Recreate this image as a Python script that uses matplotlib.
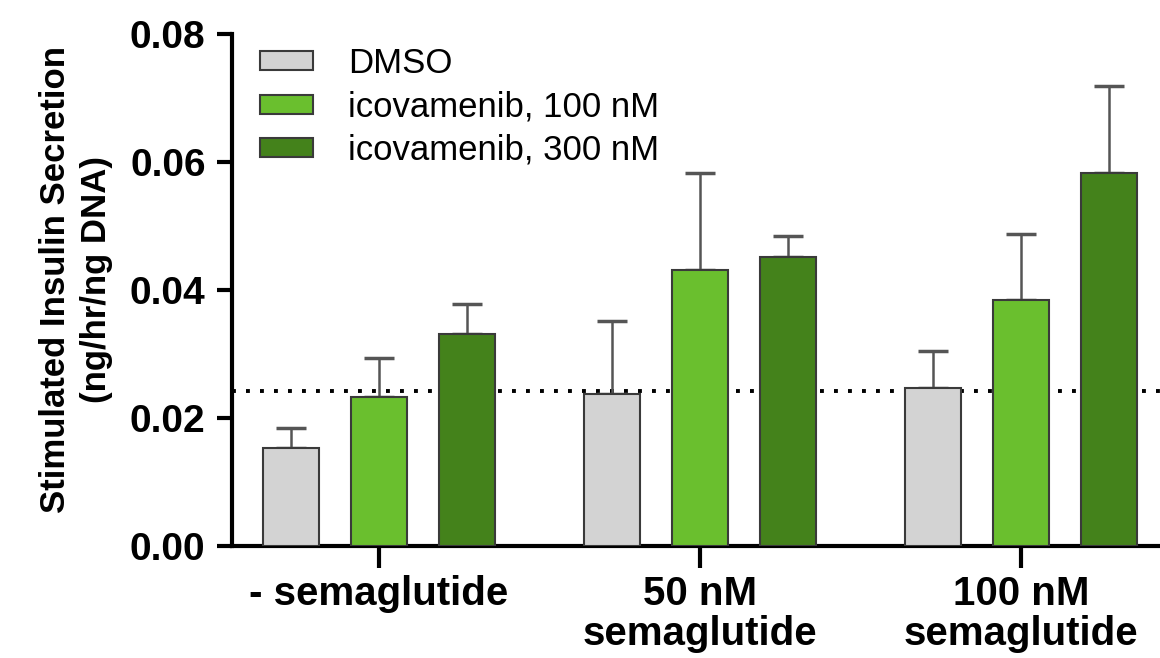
import numpy as np
import matplotlib
matplotlib.use('Agg')
import matplotlib.pyplot as plt

# Data
groups = ['- semaglutide', '50 nM\nsemaglutide', '100 nM\nsemaglutide']
series = ['DMSO', 'icovamenib, 100 nM', 'icovamenib, 300 nM']
dmso = [0.0153, 0.0237, 0.0247]
ico_100 = [0.0233, 0.0431, 0.0384]
ico_300 = [0.0331, 0.0452, 0.0583]
dmso_err = [0.0031, 0.0115, 0.0058]
ico_100_err = [0.0061, 0.0152, 0.0104]
ico_300_err = [0.0047, 0.0032, 0.0136]
baseline = 0.0242

colors = ['#d3d3d3', '#6abf2e', '#44821b']

plt.rcParams['font.family'] = ['Liberation Sans', 'DejaVu Sans']

fig = plt.figure(figsize=(11.6, 6.58), dpi=100)
ax = fig.add_axes([0.2, 0.170, 0.8, 0.778])

x = np.arange(len(groups))
offset = 0.274
width = 0.177

values = [dmso, ico_100, ico_300]
errors = [dmso_err, ico_100_err, ico_300_err]

# dotted reference line at the baseline level
ax.axhline(baseline, color='black', linestyle=(0, (1, 2.6)), linewidth=2.8,
           dash_capstyle='butt', zorder=1)

for i, (vals, errs) in enumerate(zip(values, errors)):
    pos = x + (i - 1) * offset
    ax.errorbar(pos, vals, yerr=[np.zeros(len(vals)), errs], fmt='none',
                ecolor='#555555', elinewidth=1.8, capsize=11, capthick=2.5,
                zorder=2)
    ax.bar(pos, vals, width, color=colors[i], edgecolor='#3a3a3a',
           linewidth=1.5, label=series[i], zorder=3)

ax.set_xlim(-0.458, 2.433)
ax.set_ylim(0, 0.08)
ax.set_yticks([0.0, 0.02, 0.04, 0.06, 0.08])
ax.set_yticklabels(['0.00', '0.02', '0.04', '0.06', '0.08'],
                   fontsize=28, fontweight='bold')
ax.set_xticks(x)
ax.set_xticklabels(groups, fontsize=29, fontweight='bold', linespacing=1.05)

ax.spines['top'].set_visible(False)
ax.spines['right'].set_visible(False)
ax.spines['left'].set_linewidth(3)
ax.spines['bottom'].set_linewidth(3)
ax.tick_params(axis='y', length=11, width=3, pad=8)
ax.tick_params(axis='x', length=16, width=3, pad=5)

ax.set_ylabel('Stimulated Insulin Secretion\n(ng/hr/ng DNA)', fontsize=25,
              fontweight='bold', linespacing=1.3)
ax.yaxis.set_label_coords(-0.128, 0.52)

ax.legend(loc='upper left', bbox_to_anchor=(0.030, 0.975), fontsize=25,
          frameon=False, borderpad=0, borderaxespad=0,
          handlelength=1.53, handleheight=0.46,
          handletextpad=1.0, labelspacing=0.3)

plt.savefig('out.png', dpi=100)
plt.close()
